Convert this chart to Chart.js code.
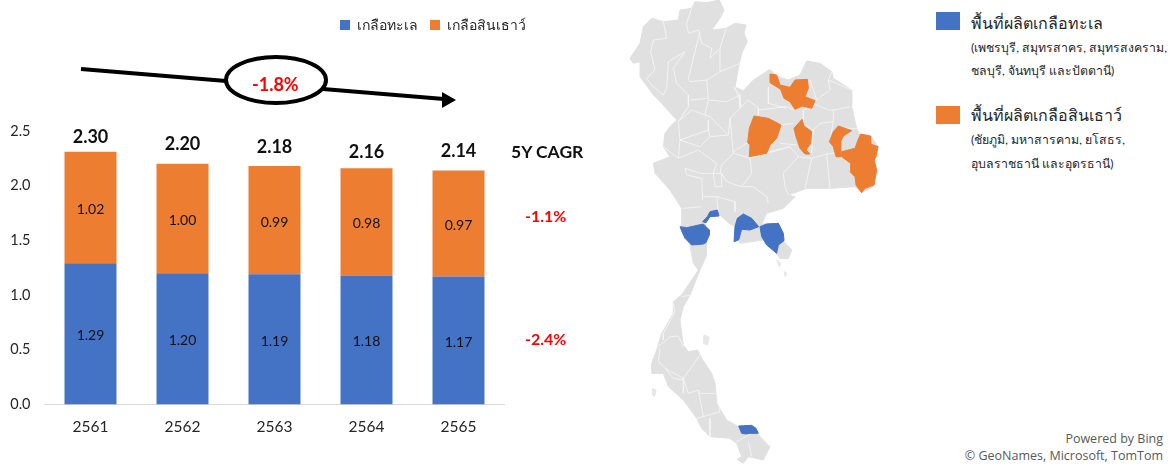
<!DOCTYPE html>
<html>
<head>
<meta charset="utf-8">
<script src="https://cdn.jsdelivr.net/npm/chart.js@4"></script>
<style>
body { margin: 0; background: #fff; width: 1169px; height: 473px; overflow: hidden; position: relative; font-family: Lato, "Noto Sans", sans-serif; }
canvas, svg, .t { position: absolute; }
.t { white-space: nowrap; line-height: 1; }
.red { color: #ff0000; font-weight: bold; }
.key { width: 24px; height: 18px; left: 936px; position: absolute; }
.head { left: 971px; font-size: 16px; color: #262626; }
.sub { left: 971px; font-size: 12.3px; color: #262626; }
.credit { right: 6px; font-family: "Open Sans"; font-size: 12.5px; color: #595959; }
</style>
</head>
<body>
<canvas id="saltChart" width="538" height="473" style="left:0;top:0"></canvas>
<canvas id="mapChart" width="300" height="473" style="left:620px;top:0"></canvas>

<svg width="600" height="130" style="left:0;top:0">
  <line x1="81" y1="69" x2="444" y2="99" stroke="#000" stroke-width="4"/>
  <polygon points="442,92 456,100 442,108" fill="#000"/>
  <ellipse cx="276" cy="80" rx="50" ry="23" fill="#fff" stroke="#000" stroke-width="4"/>
</svg>
<div class="t red" style="left:252px;top:75px;font-size:18px">-1.8%</div>
<div class="t" style="left:511px;top:143px;font-size:17.5px;font-weight:bold;color:#111">5Y CAGR</div>
<div class="t red" style="left:525px;top:208px;font-size:16px">-1.1%</div>
<div class="t red" style="left:525px;top:331px;font-size:16px">-2.4%</div>

<div class="key" style="top:12px;background:#4472c4"></div>
<div class="t head" style="top:15px">พื้นที่ผลิตเกลือทะเล</div>
<div class="t sub" style="top:42px">(เพชรบุรี, สมุทรสาคร, สมุทรสงคราม,</div>
<div class="t sub" style="top:65px">ชลบุรี, จันทบุรี และปัตตานี)</div>
<div class="key" style="top:106px;background:#ed7d31"></div>
<div class="t head" style="top:107px">พื้นที่ผลิตเกลือสินเธาว์</div>
<div class="t sub" style="top:134px">(ชัยภูมิ, มหาสารคาม, ยโสธร,</div>
<div class="t sub" style="top:158px">อุบลราชธานี และอุดรธานี)</div>
<div class="t credit" style="top:433px">Powered by Bing</div>
<div class="t credit" style="top:450px">© GeoNames, Microsoft, TomTom</div>

<script>
// ข้อมูลกราฟแท่ง
var years = ['2561', '2562', '2563', '2564', '2565'];
var seaSalt = [1.29, 1.20, 1.19, 1.18, 1.17];
var rockSalt = [1.02, 1.00, 0.99, 0.98, 0.97];
var totals = [2.30, 2.20, 2.18, 2.16, 2.14];
// ระยะยอดรวมเหนือแท่ง (พิกเซล)
var totalLift = [15, 20, 19, 16, 19];

// แผนที่: x,y สลับกันเป็นคู่ หน่วยละ 1/3 พิกเซล
var thailand = [225,5,260,8,298,0,312,30,300,55,275,90,318,85,345,70,378,75,372,100,382,125,365,160,358,190,345,262,370,272,400,240,450,208,470,228,505,240,540,225,560,183,600,190,635,215,640,235,695,270,695,320,710,385,720,405,750,405,775,440,765,470,770,510,760,560,725,578,705,560,630,565,560,565,505,585,525,590,490,625,440,640,425,672,475,670,490,700,492,725,515,750,505,775,480,775,465,755,430,720,360,730,345,680,325,668,300,645,270,650,255,670,260,720,258,770,240,810,210,885,190,920,180,960,190,1035,205,1055,235,1050,245,1075,275,1120,285,1150,290,1210,320,1260,355,1280,410,1300,450,1340,430,1380,385,1370,370,1390,352,1378,365,1370,350,1330,330,1315,270,1310,245,1285,230,1255,190,1200,145,1160,130,1120,95,1120,95,1090,110,1050,125,1000,160,940,160,905,185,885,205,855,235,810,220,790,210,735,185,680,185,625,150,570,105,520,100,490,150,470,130,440,135,400,150,380,170,360,125,310,100,285,60,230,60,185,40,190,30,175,60,130,70,80,95,55,130,65,175,60,180,30,215,25];
var trat = [475,735,515,750,505,775,480,775];
var islands = [[470,780,482,790,478,800],[492,815,500,820,496,830],[252,1005,268,1012,262,1035,250,1030],[98,1165,108,1170,104,1190,98,1185]];

var seaAreas = [
  [180,680,200,683,250,672,268,690,268,705,258,728,250,732,215,735,195,715,186,695],
  [248,665,262,650,270,635,292,630,297,648,270,650,258,668],
  [345,680,352,655,370,642,395,655,416,680,390,690,365,688,356,720,342,725],
  [420,680,440,672,475,670,490,700,492,722,475,735,470,760,440,735,425,710],
  [356,1278,370,1277,395,1276,408,1285,415,1300,390,1300,378,1302,365,1300]
];
var rockAreas = [
  [450,222,470,225,480,255,510,262,525,240,562,238,565,265,555,290,585,302,575,325,548,318,525,328,510,305,492,295,482,268,450,248],
  [402,348,445,355,483,375,470,415,450,435,440,460,388,470,390,435,383,428,388,385],
  [546,358,552,378,575,395,572,430,558,450,570,462,555,462,540,445,528,410,522,385],
  [655,378,695,392,670,408,662,425,662,470,648,470,640,440,628,425,640,395],
  [722,402,750,408,752,432,774,440,768,470,762,480,770,510,762,555,735,565,725,578,708,555,705,530,690,515,692,490,665,470,665,455,705,445,714,420]
];

// เส้นเขตจังหวัด
var borders = [
  [130,65,140,115,100,120,92,155,105,210,80,235,95,255,130,285,140,265,145,185,195,155,160,205,170,250,205,285,205,320,175,365],
  [215,25,200,70,205,100,235,90,245,130,275,145,270,175,300,145,318,85],
  [240,95,205,235,210,245,260,240,300,215,300,145],
  [300,215,360,190],[260,240,265,295,210,300],
  [340,262,360,285,320,305,265,300,255,345,215,330,175,365],
  [360,285,360,325,330,355,325,405,270,350,255,345],
  [330,355,340,460,305,495,300,520],
  [265,360,265,390,270,410,325,405],[265,390,180,420,240,440,270,410],
  [130,440,175,475,180,420,175,365],
  [175,475,235,450,290,490,280,520,240,520,195,505,200,525,245,535,248,600],
  [340,460,390,475,395,520,365,560,320,545,305,520,280,520,285,560,305,560,305,520],
  [390,475,510,440,535,470,490,520,495,560,505,585],
  [535,470,575,475,555,565],[575,475,620,462,630,565],[620,462,665,455],
  [365,560,400,560,440,590,445,610],[290,590,345,605,345,635],
  [250,590,290,590,295,640],[190,625,245,620],
  [345,262,365,320,385,300,415,325,415,345,388,385],
  [415,330,500,320,520,330],[445,260,445,310,500,325],[340,455,388,425],
  [480,375,520,370],[480,430,530,435],[388,470,510,440],
  [580,310,550,330,550,370,580,390,575,460],[580,390,600,370,640,365,630,420],
  [640,365,640,330,690,320],[580,310,625,330,640,330],
  [625,240,630,270,590,300,570,240],[635,215,625,240,695,270],[675,385,710,385],
  [160,910,165,935,130,1000,130,1020],[185,890,215,885],
  [115,1040,150,1010,175,1008,190,1040],
  [120,1045,115,1085,135,1105,190,1135,190,1180],
  [235,1050,240,1065,190,1135,205,1180,235,1170,240,1180,285,1180],
  [135,1105,160,1135,190,1140],
  [235,1170,250,1250,230,1255],[250,1250,300,1235,290,1180],
  [270,1255,270,1310],[350,1325,395,1300],[385,1325,395,1370]
];

// แปลงคู่ตัวเลขเป็นจุด
function toPoints(flat) {
  var pts = [];
  for (var i = 0; i < flat.length; i += 2) pts.push({ x: flat[i], y: flat[i + 1] });
  return pts;
}
function area(flat, color) {
  var pts = toPoints(flat);
  pts.push(pts[0]);
  return { data: pts, showLine: true, fill: 'shape', backgroundColor: color, borderColor: color, borderWidth: 1, pointRadius: 0, tension: 0 };
}
function border(flat) {
  return { data: toPoints(flat), showLine: true, fill: false, borderColor: '#f5f5f5', borderWidth: 0.9, pointRadius: 0, tension: 0 };
}

// ค่าบนแท่งและยอดรวม
var barLabels = {
  id: 'barLabels',
  afterDatasetsDraw: function(chart) {
    var ctx = chart.ctx;
    ctx.save();
    ctx.textAlign = 'center';
    ctx.textBaseline = 'middle';
    ctx.fillStyle = '#111';
    ctx.font = '14px Lato';
    chart.data.datasets.forEach(function(ds, d) {
      chart.getDatasetMeta(d).data.forEach(function(bar, i) {
        var props = bar.getProps(['x', 'y', 'base'], true);
        ctx.fillText(ds.data[i].toFixed(2), props.x, (props.y + props.base) / 2 + 2);
      });
    });
    ctx.font = 'bold 18px Lato';
    chart.getDatasetMeta(1).data.forEach(function(bar, i) {
      ctx.fillText(totals[i].toFixed(2), bar.x, bar.y - totalLift[i]);
    });
    ctx.restore();
  }
};

// เว้นที่ใต้ legend ให้แกนเริ่มตรงตำแหน่ง
var legendGap = {
  id: 'legendGap',
  beforeInit: function(chart) {
    var fit = chart.legend.fit;
    chart.legend.fit = function() {
      fit.call(this);
      this.height = 125;
    };
  }
};

new Chart(document.getElementById('saltChart'), {
  type: 'bar',
  plugins: [barLabels, legendGap],
  data: {
    labels: years,
    datasets: [
      { label: 'เกลือทะเล', data: seaSalt, backgroundColor: '#4472c4', stack: 's' },
      { label: 'เกลือสินเธาว์', data: rockSalt, backgroundColor: '#ed7d31', stack: 's' }
    ]
  },
  options: {
    responsive: false,
    animation: false,
    categoryPercentage: 1,
    barPercentage: 0.565,
    layout: { padding: { top: 6 } },
    plugins: {
      tooltip: { enabled: false },
      legend: {
        position: 'top',
        align: 'end',
        labels: { boxWidth: 10, boxHeight: 10, padding: 12, color: '#262626', font: { size: 14, family: 'Lato, "Noto Sans", sans-serif' } }
      }
    },
    scales: {
      x: {
        stacked: true,
        grid: { display: false },
        border: { color: '#d9d9d9' },
        ticks: { color: '#262626', padding: 5, font: { size: 15.5, family: 'Lato' } },
        afterFit: function(s) { s.height = 68.5; }
      },
      y: {
        stacked: true,
        min: 0,
        max: 2.5,
        grid: { display: false },
        border: { display: false },
        ticks: { stepSize: 0.5, padding: 6, color: '#262626', font: { size: 14.5, family: 'Lato' }, callback: function(v) { return v.toFixed(1); } },
        afterFit: function(s) { s.width = 44.5; }
      },
      // แกนว่างด้านขวา ให้ legend ยื่นเลยพื้นที่กราฟ
      pad: {
        position: 'right',
        grid: { display: false },
        border: { display: false },
        ticks: { display: false },
        afterFit: function(s) { s.width = 33.5; }
      }
    }
  }
});

// แผนที่ประเทศไทย
var mapData = [area(thailand, '#e0e0e0'), area(trat, '#e0e0e0')];
islands.forEach(function(f) { mapData.push(area(f, '#e6e6e6')); });
borders.forEach(function(f) { mapData.push(border(f)); });
seaAreas.forEach(function(f) { mapData.push(area(f, '#4472c4')); });
rockAreas.forEach(function(f) { mapData.push(area(f, '#ed7d31')); });
// Chart.js วาด dataset แรกไว้บนสุด จึงต้องกลับลำดับ
mapData.reverse();

new Chart(document.getElementById('mapChart'), {
  type: 'scatter',
  data: { datasets: mapData },
  options: {
    responsive: false,
    animation: false,
    layout: { padding: 0 },
    plugins: { legend: { display: false }, tooltip: { enabled: false } },
    scales: {
      x: { type: 'linear', display: false, min: 0, max: 900 },
      y: { type: 'linear', display: false, min: 0, max: 1419, reverse: true }
    }
  }
});
</script>
</body>
</html>
